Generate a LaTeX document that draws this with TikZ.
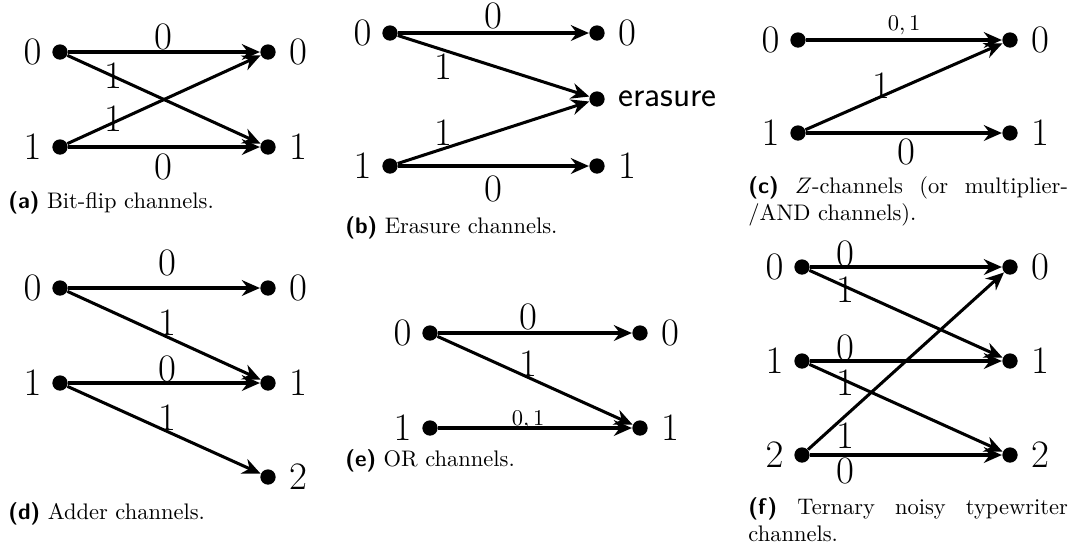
\documentclass[tikz,border=0pt]{standalone}
\usepackage{fontspec}
\usetikzlibrary{arrows.meta}
\tikzset{
  dot/.style={circle, fill=black, inner sep=0pt, minimum size=6.8pt},
  arr/.style={line width=1.35pt, -{Stealth[length=8pt, width=7pt, inset=2.6pt]}},
  num/.style={font=\fontsize{17.3}{20}\selectfont, inner sep=0pt},
  lft/.style={num, label distance=4.4pt},
  rgt/.style={num, label distance=5.6pt},
  elab/.style={font=\fontsize{17.3}{20}\selectfont, inner sep=0pt},
  slab/.style={font=\fontsize{10}{12}\selectfont, inner sep=0pt},
  captext/.style={font=\fontsize{10}{12}\selectfont, inner sep=0pt, anchor=base west},
  wcaptext/.style={captext, text width=142pt, align=justify}
}
\newcommand{\capl}[1]{{\sffamily\bfseries(#1)}}
\begin{document}
\begin{tikzpicture}[x=0.4444pt, y=-0.4444pt]
\useasboundingbox (0,0) rectangle (1080,550);

% (a) bit-flip
\node[dot, label={[lft]left:$0$}]  (a0)  at (60,52) {};
\node[dot, label={[lft]left:$1$}]  (a1)  at (60,147) {};
\node[dot, label={[rgt]right:$0$}] (ar0) at (268,52) {};
\node[dot, label={[rgt]right:$1$}] (ar1) at (268,147) {};
\draw[arr] (a0) -- (ar0);
\draw[arr] (a0) -- (ar1);
\draw[arr] (a1) -- (ar0);
\draw[arr] (a1) -- (ar1);
\node[elab] (ae1) at (163,37) {$0$};
\node[elab] (ae2) at (113,76) {$1$};
\node[elab] (ae3) at (113,119) {$1$};
\node[elab] (ae4) at (163,167) {$0$};
\node[captext] (capa) at (8,208) {\capl{a} Bit-flip channels.};

% (b) erasure
\node[dot, label={[lft]left:$0$}]  (b0)  at (390,33) {};
\node[dot, label={[lft]left:$1$}]  (b1)  at (390,166) {};
\node[dot, label={[rgt]right:$0$}] (br0) at (597,33) {};
\node[dot, label={[rgt,font=\fontsize{15.8}{19}\selectfont\sffamily]right:erasure}] (bre) at (597,99) {};
\node[dot, label={[rgt]right:$1$}] (br1) at (597,166) {};
\draw[arr] (b0) -- (br0);
\draw[arr] (b0) -- (bre);
\draw[arr] (b1) -- (bre);
\draw[arr] (b1) -- (br1);
\node[elab] (be1) at (493,16) {$0$};
\node[elab] (be2) at (443,67) {$1$};
\node[elab] (be3) at (443,133) {$1$};
\node[elab] (be4) at (493,189) {$0$};
\node[captext] (capb) at (345,233) {\capl{b} Erasure channels.};

% (c) Z-channel
\node[dot, label={[lft]left:$0$}]  (c0)  at (798,40) {};
\node[dot, label={[lft]left:$1$}]  (c1)  at (798,133) {};
\node[dot, label={[rgt]right:$0$}] (cr0) at (1010,40) {};
\node[dot, label={[rgt]right:$1$}] (cr1) at (1010,133) {};
\draw[arr] (c0) -- (cr0);
\draw[arr] (c1) -- (cr0);
\draw[arr] (c1) -- (cr1);
\node[slab] (ce1) at (904,25) {$0,1$};
\node[elab] (ce2) at (881,86) {$1$};
\node[elab] (ce3) at (906,152) {$0$};
\node[wcaptext] (capc) at (748,193) {\capl{c} $Z$-channels (or multiplier-\linebreak/AND channels).};

% (d) adder
\node[dot, label={[lft]left:$0$}]  (d0)  at (60,288) {};
\node[dot, label={[lft]left:$1$}]  (d1)  at (60,383) {};
\node[dot, label={[rgt]right:$0$}] (dr0) at (268,288) {};
\node[dot, label={[rgt]right:$1$}] (dr1) at (268,383) {};
\node[dot, label={[rgt]right:$2$}] (dr2) at (268,477) {};
\draw[arr] (d0) -- (dr0);
\draw[arr] (d0) -- (dr1);
\draw[arr] (d1) -- (dr1);
\draw[arr] (d1) -- (dr2);
\node[elab] (de1) at (167,263) {$0$};
\node[elab] (de2) at (167,323) {$1$};
\node[elab] (de3) at (167,369) {$0$};
\node[elab] (de4) at (167,418) {$1$};
\node[captext] (capd) at (8,519) {\capl{d} Adder channels.};

% (e) OR
\node[dot, label={[lft]left:$0$}]  (e0)  at (430,333) {};
\node[dot, label={[lft]left:$1$}]  (e1)  at (430,428) {};
\node[dot, label={[rgt]right:$0$}] (er0) at (640,333) {};
\node[dot, label={[rgt]right:$1$}] (er1) at (640,428) {};
\draw[arr] (e0) -- (er0);
\draw[arr] (e0) -- (er1);
\draw[arr] (e1) -- (er1);
\node[elab] (ee1) at (528,317) {$0$};
\node[elab] (ee2) at (528,364) {$1$};
\node[slab] (ee3) at (528,420) {$0,1$};
\node[captext] (cape) at (345,466) {\capl{e} OR channels.};

% (f) ternary noisy typewriter
\node[dot, label={[lft]left:$0$}]  (f0)  at (802,267) {};
\node[dot, label={[lft]left:$1$}]  (f1)  at (802,361) {};
\node[dot, label={[lft]left:$2$}]  (f2)  at (802,455) {};
\node[dot, label={[rgt]right:$0$}] (fr0) at (1010,267) {};
\node[dot, label={[rgt]right:$1$}] (fr1) at (1010,361) {};
\node[dot, label={[rgt]right:$2$}] (fr2) at (1010,455) {};
\draw[arr] (f0) -- (fr0);
\draw[arr] (f0) -- (fr1);
\draw[arr] (f1) -- (fr1);
\draw[arr] (f1) -- (fr2);
\draw[arr] (f2) -- (fr0);
\draw[arr] (f2) -- (fr2);
\node[elab] (fe1) at (845,254) {$0$};
\node[elab] (fe2) at (845,290) {$1$};
\node[elab] (fe3) at (845,348) {$0$};
\node[elab] (fe4) at (845,383) {$1$};
\node[elab] (fe5) at (845,436) {$1$};
\node[elab] (fe6) at (845,471) {$0$};
\node[wcaptext] (capf) at (748,514) {\capl{f} Ternary noisy typewriter\linebreak channels.};
\end{tikzpicture}
\end{document}
